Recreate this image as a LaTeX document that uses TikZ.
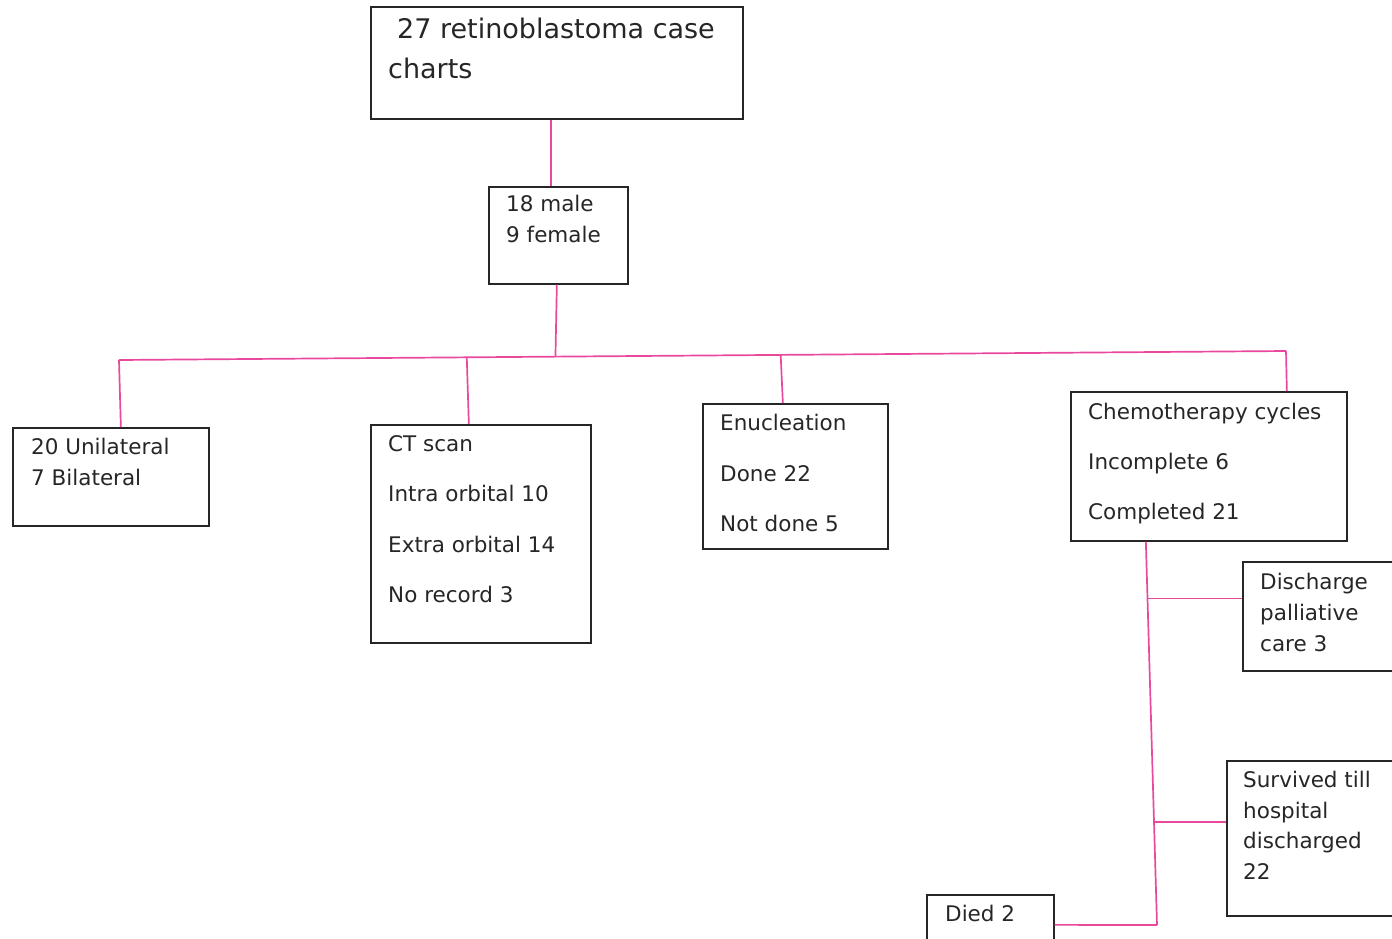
\documentclass[tikz,border=0pt]{standalone}
\usepackage{fontspec}
\setmainfont{DejaVu Sans}
\usetikzlibrary{positioning,calc}

\definecolor{linkpink}{RGB}{234,72,158}

\begin{document}
\begin{tikzpicture}[
  x=1pt, y=-1pt,
  box/.style={draw=black!85, line width=1.7pt, anchor=north west,
    inner sep=0pt},
  txt/.style={anchor=north west, inner sep=0pt, align=left,
    text=black!85, font=\fontsize{21.5}{31}\selectfont},
  wide/.style={txt, font=\fontsize{21.5}{50.5}\selectfont},
  link/.style={draw=linkpink, line width=1.7pt},
]
\useasboundingbox (0,0) rectangle (1392,938);
\clip (0,0) rectangle (1392,938);

% top of the tree
\node[box, minimum width=372pt, minimum height=112pt] (cases) at (370,6) {};
\node[txt, font=\fontsize{27}{40}\selectfont] (casestxt) at (388,18)
  {\hspace*{9pt}27 retinoblastoma case\\charts};
\node[box, minimum width=139pt, minimum height=97pt] (sex) at (488,186) {};
\node[txt] (sextxt) at (506,195) {18 male\\9 female};

\draw[link] ([xshift=-6pt]cases.south) -- ([xshift=-7.5pt]sex.north);

% second row
\node[box, minimum width=196pt, minimum height=98pt] (lat) at (12,427) {};
\node[txt] (lattxt) at (31,438) {20 Unilateral\\7 Bilateral};
\node[box, minimum width=220pt, minimum height=218pt] (ct) at (370,424) {};
\node[wide] (cttxt) at (388,435)
  {CT scan\\Intra orbital 10\\Extra orbital 14\\No record 3};
\node[box, minimum width=185pt, minimum height=145pt] (enuc) at (702,403) {};
\node[wide] (enuctxt) at (720,414) {Enucleation\\Done 22\\Not done 5};
\node[box, minimum width=276pt, minimum height=149pt] (chemo) at (1070,391) {};
\node[wide, font=\fontsize{21.5}{50}\selectfont] (chemotxt) at (1088,403)
  {Chemotherapy cycles\\Incomplete 6\\Completed 21};

% bus to the second row
\coordinate (busL) at (119,360);
\coordinate (busR) at (1286,351);
\coordinate (hub) at ($(busL)!0.374!(busR)$);
\draw[link] ([xshift=-1.5pt]sex.south) -- (hub);
\draw[link] (busL) -- (busR);
\draw[link] (busL) -- ([xshift=10pt]lat.north);
\draw[link] ($(busL)!0.298!(busR)$) -- ([xshift=-12pt]ct.north);
\draw[link] ($(busL)!0.567!(busR)$) -- ([xshift=-12.5pt]enuc.north);
\draw[link] (busR) -- ([xshift=78pt]chemo.north);

% outcomes
\node[box, minimum width=170pt, minimum height=109pt] (disc) at (1242,561) {};
\node[txt] (disctxt) at (1260,573) {Discharge\\palliative\\care 3};
\node[box, minimum width=186pt, minimum height=155pt] (surv) at (1226,760) {};
\node[txt, font=\fontsize{21.5}{30.5}\selectfont] (survtxt) at (1243,771)
  {Survived till\\hospital\\discharged\\22};
\node[box, minimum width=127pt, minimum height=60pt] (died) at (926,894) {};
\node[txt] (diedtxt) at (945,905) {Died 2};

\coordinate (trunkEnd) at (1157,925);
\coordinate (trunkTop) at ([xshift=-63pt]chemo.south);
\coordinate (discJoin) at ($(trunkTop)!0.148!(trunkEnd)$);
\coordinate (survJoin) at ($(trunkTop)!0.732!(trunkEnd)$);
\draw[link] (trunkTop) -- (trunkEnd);
\draw[link] (discJoin) -- (discJoin -| disc.west);
\draw[link] (survJoin) -- (survJoin -| surv.west);
\draw[link] (died.east) -- (trunkEnd);
\end{tikzpicture}
\end{document}
